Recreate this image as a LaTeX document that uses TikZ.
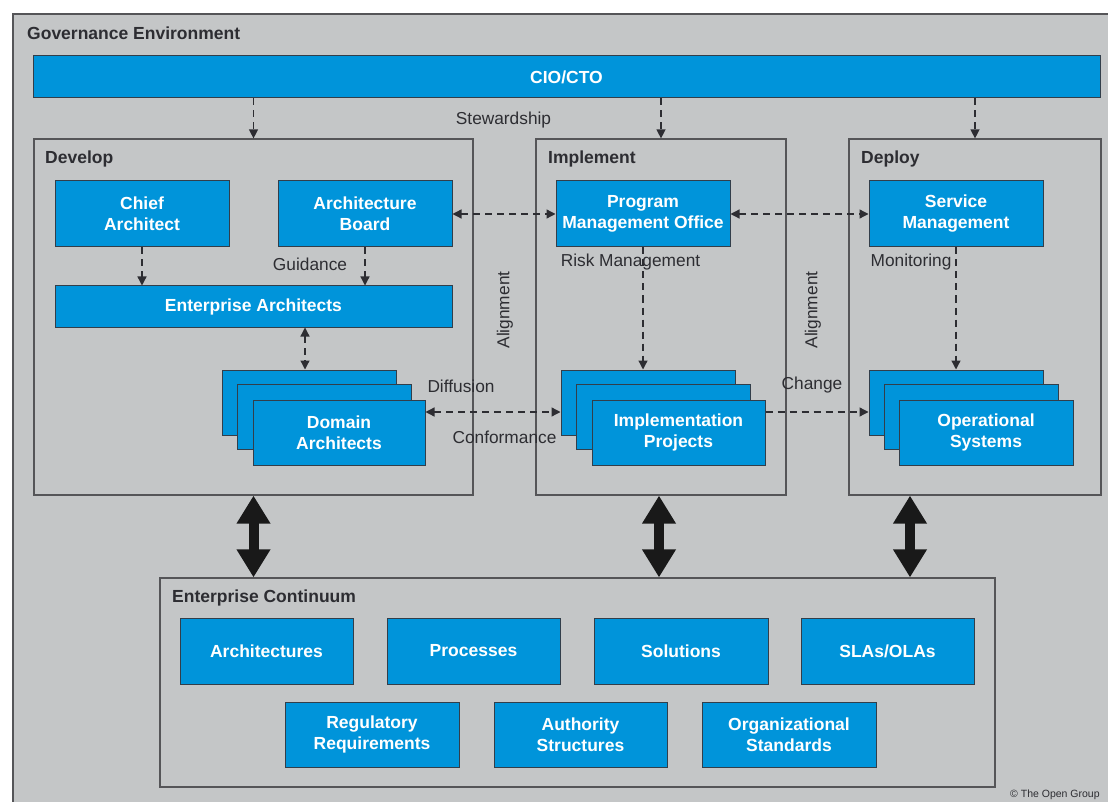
\documentclass[tikz,border=0pt]{standalone}
\usepackage{fontspec}
\setmainfont{Liberation Sans}
\usetikzlibrary{arrows.meta}
\definecolor{bg}{RGB}{196,198,199}
\definecolor{blu}{RGB}{0,148,218}
\definecolor{bord}{RGB}{50,62,74}
\definecolor{frame}{RGB}{85,85,88}
\definecolor{txt}{RGB}{45,45,50}
\tikzset{
  bx/.style={draw=bord, line width=1pt, fill=blu, text=white, align=center,
    inner sep=0pt, minimum width=174, minimum height=66,
    font=\fontsize{17.5}{21}\selectfont\bfseries},
  cont/.style={draw=frame, line width=1.2pt, inner sep=0pt},
  ttl/.style={anchor=west, text=txt, inner sep=0pt, font=\fontsize{17.5}{21}\selectfont\bfseries},
  lbl/.style={text=txt, inner sep=0pt, font=\fontsize{17.3}{21}\selectfont},
  dsh/.style={draw=txt, line width=1.3pt, dash pattern=on 7pt off 5pt,
    -{Triangle[length=9pt,width=9pt]}},
  dsh2/.style={dsh, {Triangle[length=9pt,width=9pt]}-{Triangle[length=9pt,width=9pt]}},
  big/.style={draw=black!90, line width=10pt,
    {Triangle[length=28pt,width=32pt]}-{Triangle[length=28pt,width=32pt]}}
}
\begin{document}
\begin{tikzpicture}[x=1pt,y=-1pt]
\useasboundingbox (0,0) rectangle (1108,802);
\fill[white] (0,0) rectangle (1108,802);
\clip (0,0) rectangle (1108,802);
\draw[fill=bg, draw=frame, line width=1.5pt] (13,14) rectangle (1125,820);
\node[ttl] (gov) at (27,33) {Governance Environment};

% CIO bar
\node[bx, minimum width=1067, minimum height=42] (cio) at (566.5,77) {CIO/CTO};
\node[lbl] (stew) at (503.5,120) {Stewardship};

% containers
\node[cont, minimum width=439, minimum height=356] (dev) at (253.5,317) {};
\node[cont, minimum width=250, minimum height=356] (imp) at (661,317) {};
\node[cont, minimum width=252, minimum height=356] (dep) at (975,317) {};
\node[ttl] (devt) at (45,159) {Develop};
\node[ttl] (impt) at (548,159) {Implement};
\node[ttl] (dept) at (861,159) {Deploy};

% Develop
\node[bx] (ch) at (142,214) {Chief\\Architect};
\node[bx] (ab) at (365,214) {Architecture\\Board};
\node[bx, minimum width=397, minimum height=41] (ea) at (253.5,306.5) {Enterprise Architects};
\node[bx, minimum height=65] (dab) at (309,402.5) {};
\node[bx, minimum height=65] (dam) at (324,417) {};
\node[bx, minimum width=172, minimum height=65] (daf) at (339,432.5) {Domain\\Architects};
\node[lbl] (guid) at (310,264) {Guidance};

% Implement
\node[bx] (pmo) at (643,214) {Program\\Management Office};
\node[bx, minimum height=65] (ipb) at (648,402.5) {};
\node[bx, minimum height=65] (ipm) at (663.5,417) {};
\node[bx, minimum width=173, minimum height=65] (ipf) at (678.5,432.5) {Implementation\\Projects};
\node[lbl] (risk) at (630.5,262) {Risk Management};

% Deploy
\node[bx] (sm) at (956,214) {Service\\Management};
\node[bx, minimum height=65] (osb) at (956,402.5) {};
\node[bx, minimum height=65] (osm) at (971.5,417) {};
\node[bx, minimum height=65] (osf) at (986,432.5) {Operational\\Systems};
\node[lbl] (mon) at (911,262) {Monitoring};

% between labels
\node[lbl] (diff) at (461,386) {Diffusion};
\node[lbl] (conf) at (504.5,437) {Conformance};
\node[lbl] (chg) at (812,385) {Change};
\node[lbl, rotate=90] (al1) at (505,310) {Alignment};
\node[lbl, rotate=90] (al2) at (813,310) {Alignment};

% Enterprise Continuum
\node[cont, minimum width=835, minimum height=209] (ec) at (577.5,682.5) {};
\node[ttl] (ect) at (172,598) {Enterprise Continuum};
\node[bx, minimum width=173] (arch) at (266.5,651) {Architectures};
\node[bx, minimum width=173] (proc) at (473.5,651) {Processes};
\node[bx, minimum width=174] (sol) at (681,651) {Solutions};
\node[bx, minimum width=173] (sla) at (887.5,651) {SLAs/OLAs};
\node[bx, minimum height=65] (reg) at (372,734.5) {Regulatory\\Requirements};
\node[bx, minimum width=173, minimum height=65] (auth) at (580.5,734.5) {Authority\\Structures};
\node[bx, minimum height=65] (org) at (789,734.5) {Organizational\\Standards};

\node[anchor=west, inner sep=0pt, text=txt, font=\fontsize{10.5}{12}\selectfont] (copy) at (1010,795) {\textcopyright{} The Open Group};

% connectors
\draw[dsh] (cio.south -| dev.north) -- (dev.north);
\draw[dsh] (cio.south -| imp.north) -- (imp.north);
\draw[dsh] (cio.south -| dep.north) -- (dep.north);
\draw[dsh] (ch.south) -- (ch.south |- ea.north);
\draw[dsh] (ab.south) -- (ab.south |- ea.north);
\coordinate (eax) at ([xshift=-4pt]dab.north);
\draw[dsh2] (eax |- ea.south) -- (eax);
\draw[dsh2] (ab.east) -- (pmo.west);
\draw[dsh2] (pmo.east) -- (sm.west);
\draw[dsh] (pmo.south) -- (pmo.south |- ipb.north);
\draw[dsh] (sm.south) -- (osb.north);
\draw[dsh2] ([yshift=20.5pt]daf.east) -- ([yshift=-9.5pt]ipb.west);
\draw[dsh] ([yshift=20.5pt]ipf.east) -- ([yshift=-9.5pt]osb.west);

\draw[big] (dev.south) -- (dev.south |- ec.north);
\coordinate (bi) at ([xshift=-2pt]imp.south);
\draw[big] (bi) -- (bi |- ec.north);
\coordinate (bd) at ([xshift=-65pt]dep.south);
\draw[big] (bd) -- (bd |- ec.north);
\end{tikzpicture}
\end{document}
